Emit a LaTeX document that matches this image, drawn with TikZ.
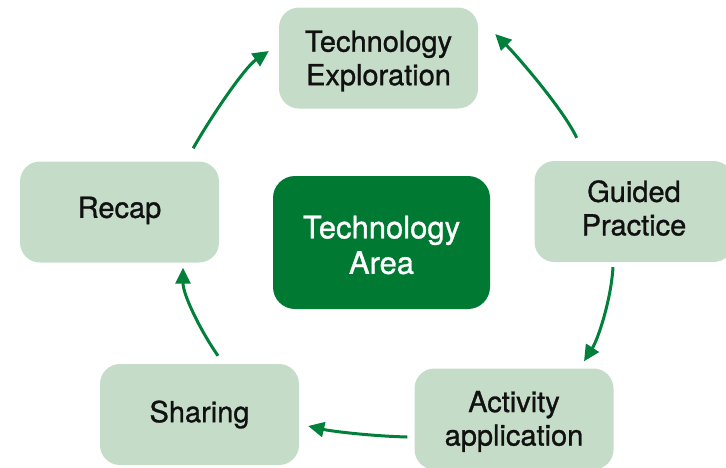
\documentclass[tikz,border=0pt]{standalone}
\usepackage{fontspec}
\setmainfont[FakeBold=1]{TeX Gyre Heros}
\usetikzlibrary{arrows.meta,calc}
\definecolor{lightbox}{RGB}{197,221,200}
\definecolor{darkbox}{RGB}{0,122,51}
\definecolor{arrowgreen}{RGB}{0,128,58}
\definecolor{txt}{RGB}{17,17,17}
\tikzset{
  stagebox/.style={fill=lightbox, rounded corners=20pt, minimum width=199pt, minimum height=101pt, inner sep=0pt},
  centerbox/.style={fill=darkbox, rounded corners=22pt, minimum width=217pt, minimum height=133pt, inner sep=0pt},
  stagetext/.style={align=center, text=txt, font=\fontsize{29}{33.5}\selectfont, inner sep=0pt},
  centertext/.style={align=center, text=white, font=\fontsize{31}{35.5}\selectfont, inner sep=0pt},
  cyclearrow/.style={draw=arrowgreen, line width=3pt, -{Triangle[length=16pt,width=15pt]}}
}
\begin{document}
\begin{tikzpicture}[x=1pt,y=-1pt]
\useasboundingbox (0,0) rectangle (726,467);
\clip (0,0) rectangle (726,467);
\node[stagebox] (te) at (378.5,58) {};
\node[stagebox] (gp) at (634,211.5) {};
\node[stagebox] (aa) at (514,419) {};
\node[stagebox] (sh) at (199.5,414.5) {};
\node[stagebox] (rc) at (119.5,212) {};
\node[centerbox] (ta) at (381.5,242.5) {};
\node[stagetext] (te-t) at ([yshift=-3]te.center) {Technology\\Exploration};
\node[stagetext] (gp-t) at ([yshift=3.5]gp.center) {Guided\\Practice};
\node[stagetext] (aa-t) at ([yshift=-2.4]aa.center) {Activity\\application};
\node[stagetext] (sh-t) at (sh.center) {Sharing};
\node[stagetext] (rc-t) at ([yshift=1.6]rc.center) {Recap};
\node[centertext] (ta-t) at ([yshift=-2.5]ta.center) {Technology\\Area};
% connectors
\draw[cyclearrow] ([shift={(-26,-13)}]rc.north east) .. controls ([shift={(-11,-40)}]rc.north east) and ([shift={(-35,10)}]te.west) .. ([shift={(-10,-7)}]te.west);
\draw[cyclearrow] ([shift={(-157,-23)}]gp.north east) .. controls ([shift={(-170,-51)}]gp.north east) and ([shift={(39,-2)}]te.east) .. ([shift={(17,-24)}]te.east);
\draw[cyclearrow] ([shift={(-21,5)}]gp.south) .. controls ([shift={(-23,38)}]gp.south) and ([shift={(84,-29)}]aa.north) .. ([shift={(70,-7)}]aa.north);
\draw[cyclearrow] ([shift={(-7,18)}]aa.west) .. controls ([shift={(-45,17)}]aa.west) and ([shift={(31,16.5)}]sh.east) .. ([shift={(9,11.5)}]sh.east);
\draw[cyclearrow] ([shift={(18.5,-8)}]sh.north) .. controls ([shift={(0.5,-34)}]sh.north) and ([shift={(63.5,32)}]rc.south) .. ([shift={(63.5,5)}]rc.south);
\end{tikzpicture}
\end{document}
